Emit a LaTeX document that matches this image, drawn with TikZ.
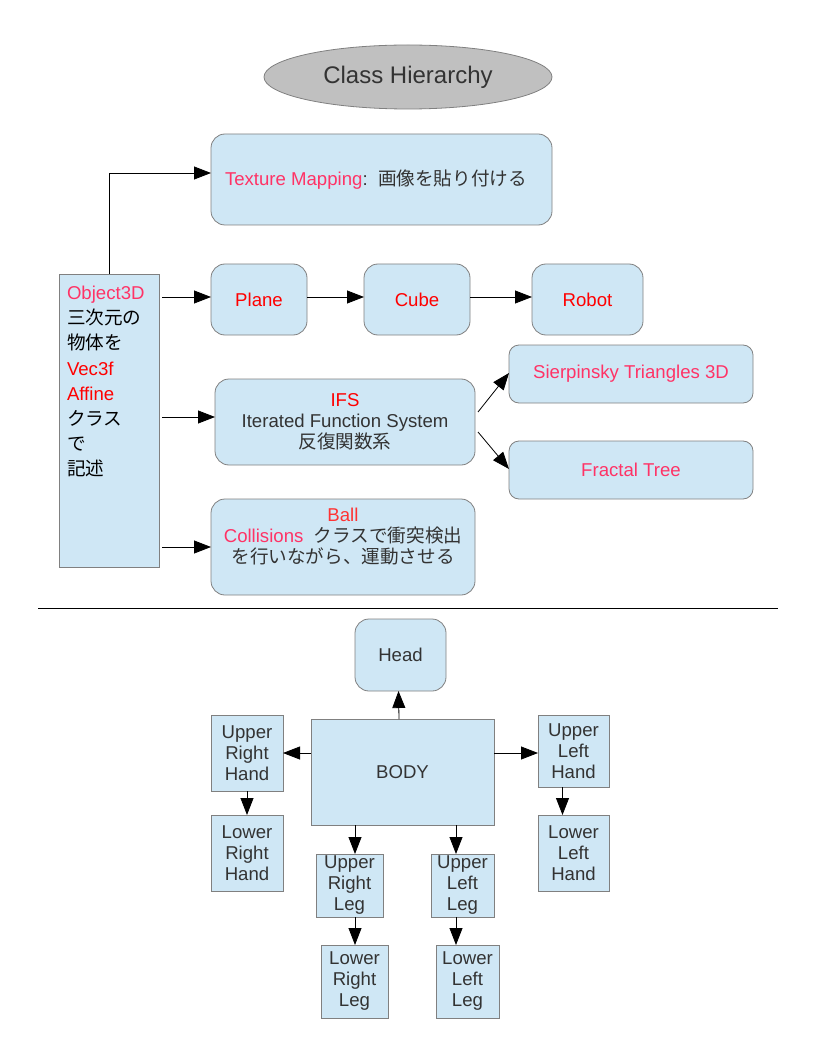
\documentclass[tikz,border=0pt]{standalone}
\usepackage{fontspec}
\setmainfont{Liberation Sans}
\newfontfamily\jp{Noto Sans CJK JP}
\usetikzlibrary{arrows.meta,shapes.geometric}
\definecolor{boxblue}{HTML}{CFE7F5}
\definecolor{edge}{HTML}{808080}
\definecolor{txt}{HTML}{333333}
\definecolor{pink}{HTML}{FF3366}
\definecolor{ballred}{HTML}{FF3333}
\definecolor{titlegrey}{HTML}{C0C0C0}
\begin{document}
\begin{tikzpicture}[x=1pt,y=-1pt,
  every node/.style={inner sep=0pt,outer sep=0pt,font=\fontsize{18.6}{21}\selectfont,text=txt},
  rbox/.style={draw=edge,fill=boxblue,rounded corners=14pt,line width=0.8pt,align=center},
  sbox/.style={draw=edge,fill=boxblue,line width=0.8pt,align=center},
  arr/.style={-{Triangle[length=17pt,width=13pt]},line width=0.8pt,black}]
\useasboundingbox (0,0) rectangle (816,1056);
% title
\node[ellipse,draw=edge,fill=titlegrey,minimum width=288,minimum height=64,line width=0.8pt,font=\fontsize{24}{28}\selectfont] (title) at (408,77) {Class Hierarchy};
% upper part
\node[rbox,minimum width=341,minimum height=91] (tex) at (381.5,179.5) {};
\node[anchor=west] (textx) at (225,180) {\textcolor{pink}{Texture Mapping}:\ \ {\jp 画像を貼り付ける}};
\node[sbox,minimum width=100,minimum height=293] (obj) at (109,420.5) {};
\node[anchor=north west,align=left,font=\fontsize{18.6}{25.2}\selectfont,text=black] (objtext) at (67,286) {\textcolor{pink}{Object3D}\\{\jp 三次元の}\\{\jp 物体を}\\\textcolor{red}{Vec3f}\\\textcolor{red}{Affine}\\{\jp クラス}\\{\jp で}\\{\jp 記述}};
\node[rbox,minimum width=96,minimum height=71,text=red] (plane) at (259,299.5) {Plane};
\node[rbox,minimum width=106,minimum height=71,text=red] (cube) at (417,299.5) {Cube};
\node[rbox,minimum width=111,minimum height=71,text=red] (robot) at (587.5,299.5) {Robot};
\node[rbox,minimum width=260,minimum height=86] (ifs) at (345,422) {\textcolor{red}{IFS}\\Iterated Function System\\{\jp 反復関数系}};
\node[rbox,minimum width=244,minimum height=58,text=pink,rounded corners=10pt] (sier) at (631,374) {Sierpinsky Triangles 3D};
\node[rbox,minimum width=244,minimum height=58,text=pink,rounded corners=10pt] (tree) at (631,470) {Fractal Tree};
\node[rbox,minimum width=264,minimum height=96] (ball) at (343,547) {};
\node (balltext) at (343,537) [align=center] {\textcolor{ballred}{Ball}\\\textcolor{pink}{Collisions}\ \ {\jp クラスで衝突検出}\\{\jp を行いながら、運動させる}};
% connectors upper
\coordinate (o1) at (162,297);
\coordinate (o2) at (162,417);
\coordinate (o3) at (162,547);
\coordinate (t1) at (211,173);
\coordinate (i1) at (478,412);
\coordinate (i2) at (478,432);
\draw[arr] (obj.north) |- (t1);
\draw[arr] (o1) -- (o1 -| plane.west);
\draw[arr] (o1 -| plane.east) -- (o1 -| cube.west);
\draw[arr] (o1 -| cube.east) -- (o1 -| robot.west);
\draw[arr] (o2) -- (o2 -| ifs.west);
\draw[arr] (o3) -- (ball.west);
\draw[arr] (i1) -- ([yshift=1pt]sier.west);
\draw[arr] (i2) -- ([yshift=1pt]tree.west);
% separator
\coordinate (s1) at (38,608);
\coordinate (s2) at (778,608);
\draw[line width=0.8pt] (s1) -- (s2);
% lower part
\node[rbox,minimum width=91,minimum height=72] (head) at (400.5,655) {Head};
\node[sbox,minimum width=183,minimum height=106] (body) at (402.5,772) {BODY};
\node[sbox,minimum width=72,minimum height=76] (urh) at (247,753) {Upper\\Right\\Hand};
\node[sbox,minimum width=72,minimum height=76] (lrh) at (247,853) {Lower\\Right\\Hand};
\node[sbox,minimum width=71,minimum height=72] (ulh) at (573.5,751) {Upper\\Left\\Hand};
\node[sbox,minimum width=71,minimum height=76] (llh) at (573.5,853) {Lower\\Left\\Hand};
\node[sbox,minimum width=67,minimum height=63] (url) at (349.5,885.5) {Upper\\Right\\Leg};
\node[sbox,minimum width=67,minimum height=73] (lrl) at (354.5,981.5) {Lower\\Right\\Leg};
\node[sbox,minimum width=63,minimum height=63] (ull) at (462.5,885.5) {Upper\\Left\\Leg};
\node[sbox,minimum width=63,minimum height=73] (lll) at (467.5,981.5) {Lower\\Left\\Leg};
% connectors lower
\draw[arr] ([xshift=-3.5pt]body.north) -- ([xshift=-2pt]head.south);
\draw[arr] (body.west |- urh.east) -- (urh.east);
\draw[arr] (body.east |- urh.east) -- (ulh.west |- urh.east);
\draw[arr] (urh.south) -- (lrh.north -| urh.south);
\draw[arr] ([xshift=-11pt]ulh.south) -- ([xshift=-11pt]llh.north);
\draw[arr] ([xshift=5.5pt]url.north |- body.south) -- ([xshift=5.5pt]url.north);
\draw[arr] ([xshift=-6.5pt]ull.north |- body.south) -- ([xshift=-6.5pt]ull.north);
\draw[arr] ([xshift=5.5pt]url.south) -- ([xshift=5.5pt]url.south |- lrl.north);
\draw[arr] ([xshift=-6.5pt]ull.south) -- ([xshift=-6.5pt]ull.south |- lll.north);
\end{tikzpicture}
\end{document}
